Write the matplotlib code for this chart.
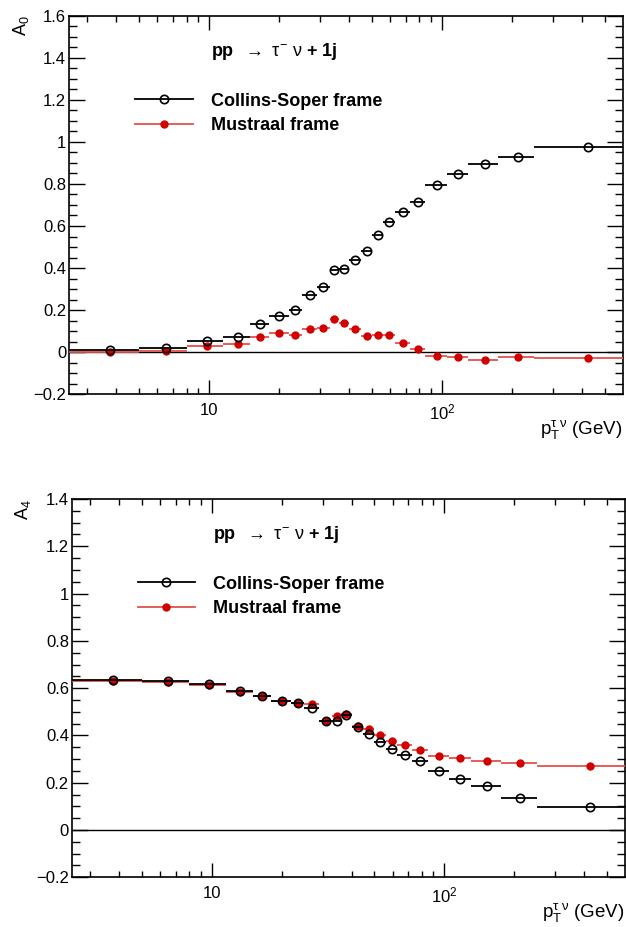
import matplotlib
matplotlib.use('Agg')
import matplotlib.pyplot as plt
import numpy as np
from matplotlib.lines import Line2D
from matplotlib.ticker import FixedLocator, FixedFormatter, MultipleLocator, NullFormatter

# pT bin edges (GeV)
BIN_EDGES = [2.5, 5, 8, 11.5, 15, 18, 22, 25, 29, 33, 36, 40, 45, 50, 56, 63,
             73, 85, 105, 130, 175, 250, 600]

# A0 coefficient
A0_CS = [0.010, 0.018, 0.053, 0.074, 0.134, 0.171, 0.201, 0.273, 0.310, 0.389,
         0.397, 0.437, 0.481, 0.556, 0.618, 0.665, 0.715, 0.795, 0.849, 0.896,
         0.926, 0.977]
A0_MUS = [0.002, 0.006, 0.029, 0.040, 0.074, 0.090, 0.083, 0.112, 0.114, 0.156,
          0.137, 0.112, 0.076, 0.083, 0.082, 0.045, 0.017, -0.017, -0.021, -0.037,
          -0.021, -0.028]

# A4 coefficient
A4_CS = [0.635, 0.632, 0.616, 0.589, 0.565, 0.546, 0.536, 0.515, 0.461, 0.462,
         0.486, 0.434, 0.406, 0.374, 0.341, 0.316, 0.292, 0.248, 0.216, 0.186,
         0.134, 0.097]
A4_MUS = [0.630, 0.627, 0.613, 0.582, 0.565, 0.546, 0.536, 0.532, 0.461, 0.482,
          0.491, 0.441, 0.426, 0.400, 0.376, 0.361, 0.337, 0.314, 0.303, 0.292,
          0.282, 0.271]

RED = '#d10000'
RED_LINE = '#e4514d'

plt.rcParams.update({
    'font.family': ['Liberation Sans', 'DejaVu Sans'],
    'mathtext.fontset': 'custom',
    'mathtext.rm': 'Liberation Sans',
    'mathtext.it': 'Liberation Sans:italic',
    'mathtext.bf': 'Liberation Sans:bold',
    'font.size': 10,
})


def draw_panel(ax, cs, mus, ylim, ylab):
    edges = np.array(BIN_EDGES)
    centers = 0.5 * (edges[:-1] + edges[1:])
    xerr = [centers - edges[:-1], edges[1:] - centers]

    ax.axhline(0, color='black', lw=1.0, zorder=1)
    ax.errorbar(centers, mus, xerr=xerr, fmt='o', color=RED_LINE, ecolor=RED_LINE,
                mfc=RED, mec=RED, ms=5.0, elinewidth=1.3, capsize=0, zorder=3)
    ax.errorbar(centers, cs, xerr=xerr, fmt='o', color='black', ecolor='black',
                mfc='none', mec='black', ms=6.0, mew=1.2, elinewidth=1.3, capsize=0,
                zorder=4)

    ax.set_xscale('log')
    ax.set_xlim(edges[0], edges[-1])
    ax.set_ylim(*ylim)

    ax.xaxis.set_major_locator(FixedLocator([10, 100]))
    ax.xaxis.set_major_formatter(FixedFormatter(['10', r'$10^{2}$']))
    minors = [3, 4, 5, 6, 7, 8, 9, 20, 30, 40, 50, 60, 70, 80, 90, 200, 300, 400, 500]
    ax.xaxis.set_minor_locator(FixedLocator(minors))
    ax.xaxis.set_minor_formatter(NullFormatter())
    ax.yaxis.set_major_locator(MultipleLocator(0.2))
    ax.yaxis.set_minor_locator(MultipleLocator(0.05))
    ax.yaxis.set_major_formatter(plt.FuncFormatter(
        lambda v, p: ('%g' % round(v, 2)).replace('-', '\u2212')))

    ax.tick_params(axis='both', which='both', direction='in', top=True, right=True,
                   width=1.0, labelsize=12)
    ax.tick_params(axis='x', which='major', length=10, pad=6)
    ax.tick_params(axis='x', which='minor', length=4.5)
    ax.tick_params(axis='y', which='major', length=11.5, pad=2)
    ax.tick_params(axis='y', which='minor', length=5.8)
    for sp in ax.spines.values():
        sp.set_linewidth(1.2)

    ax.set_ylabel(ylab, fontsize=13, loc='top')
    ax.yaxis.set_label_coords(-0.069, 1.0)
    ax.set_xlabel(r'$\mathrm{p}_{\mathrm{T}}^{\mathrm{τ\ ν}}$ (GeV)', fontsize=13.5, loc='right')
    ax.xaxis.set_label_coords(1.0, -0.062)

    ax.text(0.256, 0.905, r'$\mathbf{pp}\ \ \rightarrow\ \mathrm{τ}^{-}\ \mathrm{ν}\ \mathbf{+\ 1j}$',
            transform=ax.transAxes, fontsize=13, ha='left', va='center')

    handles = [
        Line2D([], [], color='black', lw=1.3, marker='o', mfc='none', mec='black',
               ms=6.0, mew=1.2),
        Line2D([], [], color=RED_LINE, lw=1.3, marker='o', mfc=RED, mec=RED, ms=5.0),
    ]
    ax.legend(handles, ['Collins-Soper frame', 'Mustraal frame'], loc='upper left',
              bbox_to_anchor=(0.119, 0.797), frameon=False, borderpad=0,
              borderaxespad=0, handlelength=3.2, handletextpad=1.0, labelspacing=0.42,
              prop={'weight': 'bold', 'size': 13})


fig = plt.figure(figsize=(6.26, 9.27), dpi=100)
ax1 = fig.add_axes([0.1102, 0.5747, 0.885, 0.4084])
ax2 = fig.add_axes([0.1145, 0.0536, 0.8839, 0.4081])

draw_panel(ax1, A0_CS, A0_MUS, (-0.2, 1.6), r'$\mathrm{A}_{0}$')
draw_panel(ax2, A4_CS, A4_MUS, (-0.2, 1.4), r'$\mathrm{A}_{4}$')

fig.savefig('out.png', dpi=100, facecolor='white')
